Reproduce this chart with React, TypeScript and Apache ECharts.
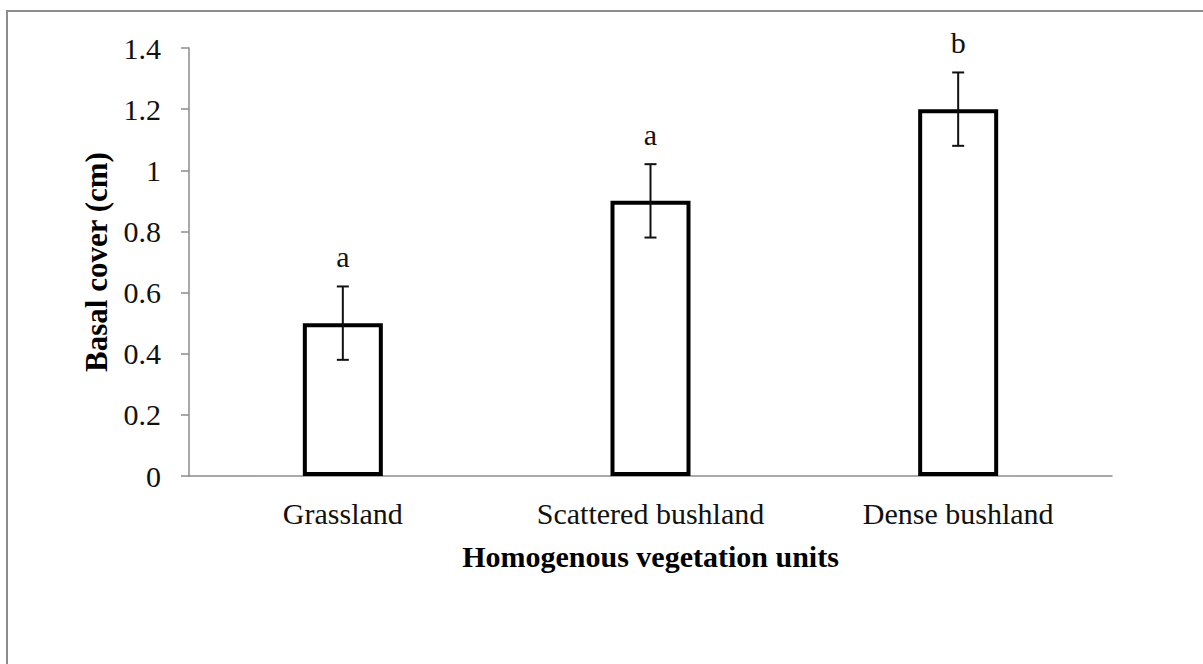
import React, { useEffect, useRef } from "react";
import * as echarts from "echarts";

const categories = ["Grassland", "Scattered bushland", "Dense bushland"];
const means = [0.5, 0.9, 1.2];
const errors = [0.12, 0.12, 0.12];
const letters = ["a", "a", "b"];
const yTicks = { min: 0, max: 1.4, interval: 0.2 };

export default function App() {
  const ref = useRef<HTMLDivElement>(null);
  useEffect(() => {
    document.body.style.margin = "0";
    const chart = echarts.init(ref.current!, null, { renderer: "svg" });
    const font = "'Liberation Serif', 'Times New Roman', serif";
    const errData = means.map((m, i) => [i, m - errors[i], m + errors[i], m]);
    chart.setOption({
      animation: false,
      backgroundColor: "#fff",
      graphic: [
        {
          type: "rect",
          shape: { x: 7, y: 11, width: 1400, height: 900 },
          style: { fill: "none", stroke: "#8c8c8c", lineWidth: 2 },
          silent: true,
        },
      ],
      grid: { left: 189, top: 48, right: 91, bottom: 188, containLabel: false },
      xAxis: {
        type: "category",
        data: categories,
        axisLine: { lineStyle: { color: "#8c8c8c", width: 1.5 } },
        axisTick: { show: false },
        axisLabel: { color: "#111", fontFamily: font, fontSize: 30, margin: 22 },
        name: "Homogenous vegetation units",
        nameLocation: "middle",
        nameGap: 65,
        nameTextStyle: { color: "#000", fontFamily: font, fontSize: 30, fontWeight: "bold" },
      },
      yAxis: {
        type: "value",
        min: yTicks.min,
        max: yTicks.max,
        interval: yTicks.interval,
        splitLine: { show: false },
        axisLine: { show: true, lineStyle: { color: "#8c8c8c", width: 1.5 } },
        axisTick: { show: true, length: 8, lineStyle: { color: "#8c8c8c", width: 1.5 } },
        axisLabel: { color: "#111", fontFamily: font, fontSize: 30, margin: 28 },
        name: "Basal cover (cm)",
        nameLocation: "middle",
        nameGap: 77,
        nameRotate: 90,
        nameTextStyle: { color: "#000", fontFamily: font, fontSize: 31, fontWeight: "bold" },
      },
      series: [
        {
          type: "bar",
          data: means,
          barWidth: "26%",
          itemStyle: { color: "#fff", borderColor: "#000", borderWidth: 4 },
          z: 2,
        },
        {
          type: "custom",
          data: errData,
          z: 3,
          renderItem: (params: any, api: any) => {
            const x = api.value(0);
            const lo = api.coord([x, api.value(1)]);
            const hi = api.coord([x, api.value(2)]);
            const cap = 6;
            const style = { stroke: "#111", lineWidth: 2 };
            return {
              type: "group",
              children: [
                { type: "line", shape: { x1: lo[0], y1: lo[1], x2: hi[0], y2: hi[1] }, style },
                { type: "line", shape: { x1: lo[0] - cap, y1: lo[1], x2: lo[0] + cap, y2: lo[1] }, style },
                { type: "line", shape: { x1: hi[0] - cap, y1: hi[1], x2: hi[0] + cap, y2: hi[1] }, style },
                {
                  type: "text",
                  x: hi[0],
                  y: hi[1] - 30,
                  style: {
                    text: letters[params.dataIndex],
                    fill: "#111",
                    font: "30px " + font,
                    align: "center",
                    verticalAlign: "middle",
                  },
                },
              ],
            };
          },
        },
      ],
    });
    return () => chart.dispose();
  }, []);
  return <div ref={ref} style={{ width: 1203, height: 664 }} />;
}
